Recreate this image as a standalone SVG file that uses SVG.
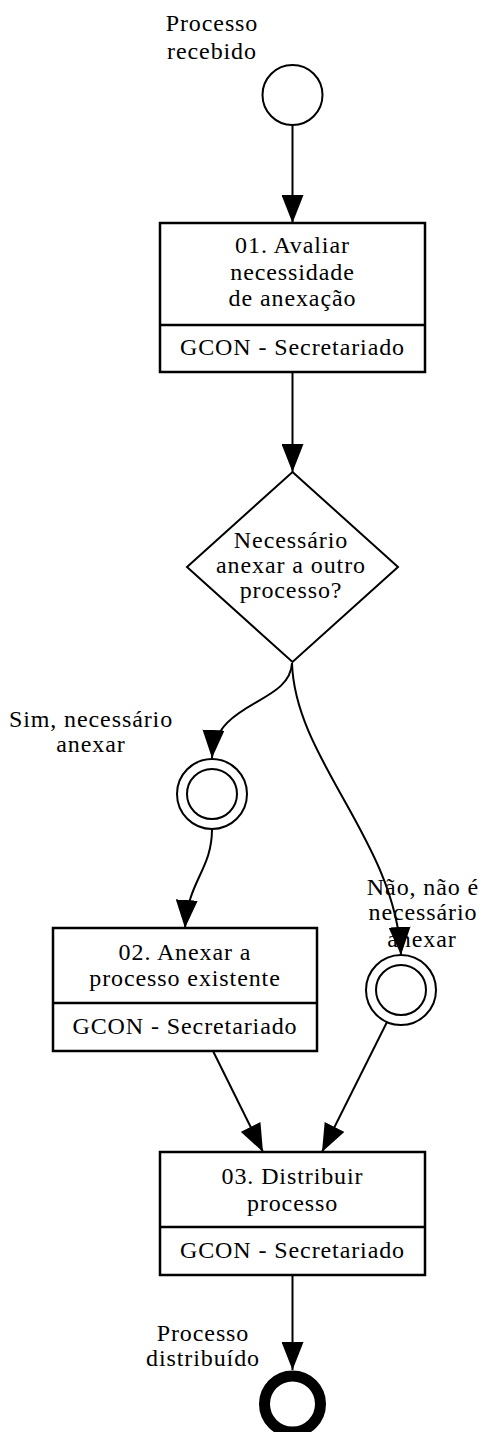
<svg xmlns="http://www.w3.org/2000/svg" width="485" height="1432" viewBox="0 0 485 1432">
<style>
  text { font-family: "Liberation Serif", "Times New Roman", serif; font-size: 24px; fill: #000; text-anchor: middle; letter-spacing: 0.9px; }
  .box { fill: #fff; stroke: #000; stroke-width: 2.5; }
  .div { stroke: #000; stroke-width: 2.5; }
  .ev { fill: #fff; stroke: #000; stroke-width: 2; }
  .end { fill: #fff; stroke: #000; stroke-width: 11; }
  .gw { fill: #fff; stroke: #000; stroke-width: 2; }
  .edge { fill: none; stroke: #000; stroke-width: 2; marker-end: url(#arrow); }
</style>
<defs>
  <marker id="arrow" markerUnits="userSpaceOnUse" markerWidth="28" markerHeight="22" refX="28" refY="11" orient="auto">
    <path d="M0,0 L28,11 L0,22 z" fill="#000"/>
  </marker>
</defs>
<rect width="485" height="1432" fill="#fff"/>

<g id="start">
  <circle class="ev" cx="292.5" cy="95" r="30"/>
  <text x="212" y="31">Processo</text>
  <text x="212" y="59">recebido</text>
</g>

<g id="task1">
  <rect class="box" x="160" y="223" width="265" height="149"/>
  <line class="div" x1="160" y1="325" x2="425" y2="325"/>
  <text x="292.5" y="253">01. Avaliar</text>
  <text x="292.5" y="280">necessidade</text>
  <text x="292.5" y="306">de anexação</text>
  <text x="292.5" y="355">GCON - Secretariado</text>
</g>

<g id="gateway">
  <polygon class="gw" points="292.5,472 398,567 292.5,662 187,567"/>
  <text x="291" y="548">Necessário</text>
  <text x="291" y="573">anexar a outro</text>
  <text x="291" y="598">processo?</text>
</g>

<g id="evSim">
  <circle class="ev" cx="212" cy="794" r="35"/>
  <circle class="ev" cx="212" cy="794" r="25"/>
  <text x="91" y="727">Sim, necessário</text>
  <text x="91" y="752">anexar</text>
</g>

<g id="task2">
  <rect class="box" x="53" y="928" width="264" height="123"/>
  <line class="div" x1="53" y1="1003" x2="317" y2="1003"/>
  <text x="185" y="960">02. Anexar a</text>
  <text x="185" y="986">processo existente</text>
  <text x="185" y="1034">GCON - Secretariado</text>
</g>

<g id="evNao">
  <circle class="ev" cx="401" cy="990" r="35"/>
  <circle class="ev" cx="401" cy="990" r="25"/>
  <text x="423" y="895">Não, não é</text>
  <text x="423" y="920">necessário</text>
  <text x="422" y="947">anexar</text>
</g>

<g id="task3">
  <rect class="box" x="160" y="1152" width="265" height="123"/>
  <line class="div" x1="160" y1="1227" x2="425" y2="1227"/>
  <text x="292.5" y="1184">03. Distribuir</text>
  <text x="292.5" y="1211">processo</text>
  <text x="292.5" y="1258">GCON - Secretariado</text>
</g>

<g id="end">
  <circle class="end" cx="292.5" cy="1404" r="28"/>
  <text x="203" y="1341">Processo</text>
  <text x="203" y="1366">distribuído</text>
</g>

<g id="connectors">
  <path class="edge" d="M292.5,125 L292.5,223"/>
  <path class="edge" d="M292.5,372 L292.5,472"/>
  <path class="edge" d="M292,663 C290,705 215,700 212,758"/>
  <path class="edge" d="M292,663 C295,760 395,840 401,955"/>
  <path class="edge" d="M212,829 C212,870 188,880 185,928"/>
  <path class="edge" d="M213,1051 L263,1152"/>
  <path class="edge" d="M387,1022 L322,1152"/>
  <path class="edge" d="M292.5,1275 L292.5,1370"/>
</g>
</svg>
